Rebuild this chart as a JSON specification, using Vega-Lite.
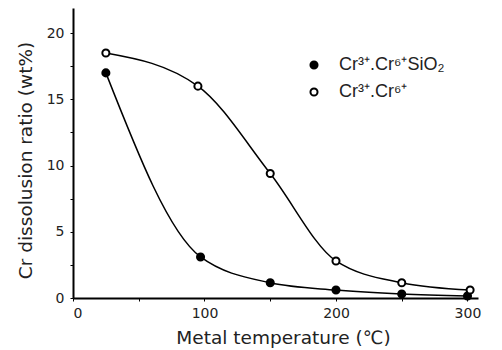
{
  "$schema": "https://vega.github.io/schema/vega-lite/v6.json",
  "width": 405,
  "height": 290,
  "autosize": "none",
  "padding": {"left": 73, "top": 8, "right": 24, "bottom": 52},
  "background": "white",
  "config": {
    "view": {"stroke": null},
    "font": "DejaVu Sans",
    "axis": {"grid": false, "domainColor": "black", "domainWidth": 2, "tickColor": "black", "labelColor": "#222", "titleColor": "#222", "labelFont": "DejaVu Sans", "titleFont": "DejaVu Sans", "titleFontWeight": "normal"}
  },
  "data": {
    "values": [
      {"series": "Cr³⁺.Cr⁶⁺SiO₂", "t": 25, "r": 17.0},
      {"series": "Cr³⁺.Cr⁶⁺SiO₂", "t": 97, "r": 3.1},
      {"series": "Cr³⁺.Cr⁶⁺SiO₂", "t": 150, "r": 1.15},
      {"series": "Cr³⁺.Cr⁶⁺SiO₂", "t": 200, "r": 0.6},
      {"series": "Cr³⁺.Cr⁶⁺SiO₂", "t": 250, "r": 0.3},
      {"series": "Cr³⁺.Cr⁶⁺SiO₂", "t": 300, "r": 0.15},
      {"series": "Cr³⁺.Cr⁶⁺", "t": 25, "r": 18.5},
      {"series": "Cr³⁺.Cr⁶⁺", "t": 95, "r": 16.0},
      {"series": "Cr³⁺.Cr⁶⁺", "t": 150, "r": 9.4},
      {"series": "Cr³⁺.Cr⁶⁺", "t": 200, "r": 2.8},
      {"series": "Cr³⁺.Cr⁶⁺", "t": 250, "r": 1.15},
      {"series": "Cr³⁺.Cr⁶⁺", "t": 302, "r": 0.6}
    ]
  },
  "encoding": {
    "x": {"field": "t", "type": "quantitative", "scale": {"domain": [0, 308], "nice": false},
      "axis": {"values": [0, 50, 100, 150, 200, 250, 300], "labelExpr": "datum.value % 100 == 0 ? datum.label : ''", "tickSize": 3, "labelFontSize": 14, "labelPadding": 5, "title": "Metal temperature (℃)", "titleFontSize": 18.5, "titlePadding": 8, "titleX": 210}},
    "y": {"field": "r", "type": "quantitative", "scale": {"domain": [0, 21.9], "nice": false},
      "axis": {"values": [0, 2.5, 5, 7.5, 10, 12.5, 15, 17.5, 20], "labelExpr": "datum.value % 5 == 0 ? datum.label : ''", "tickSize": 3, "labelFontSize": 14, "labelPadding": 6, "title": "Cr dissolusion ratio (wt%)", "titleFontSize": 18.5, "titlePadding": 11, "titleY": 152}}
  },
  "layer": [
    {
      "mark": {"type": "line", "interpolate": "monotone", "color": "black", "strokeWidth": 1.5},
      "encoding": {"detail": {"field": "series"}}
    },
    {
      "mark": {"type": "point", "shape": "circle", "filled": true, "stroke": "black", "strokeWidth": 2, "size": 50, "opacity": 1},
      "encoding": {
        "fill": {"field": "series", "type": "nominal", "scale": {"domain": ["Cr³⁺.Cr⁶⁺SiO₂", "Cr³⁺.Cr⁶⁺"], "range": ["black", "white"]},
          "legend": {"title": null, "orient": "none", "legendX": 232, "legendY": 48, "symbolType": "circle", "symbolSize": 50, "symbolStrokeColor": "black", "symbolStrokeWidth": 2, "labelFontSize": 18, "labelColor": "#222", "labelOffset": 16, "rowPadding": 9, "labelFont": "Liberation Sans"}}
      }
    }
  ]
}
